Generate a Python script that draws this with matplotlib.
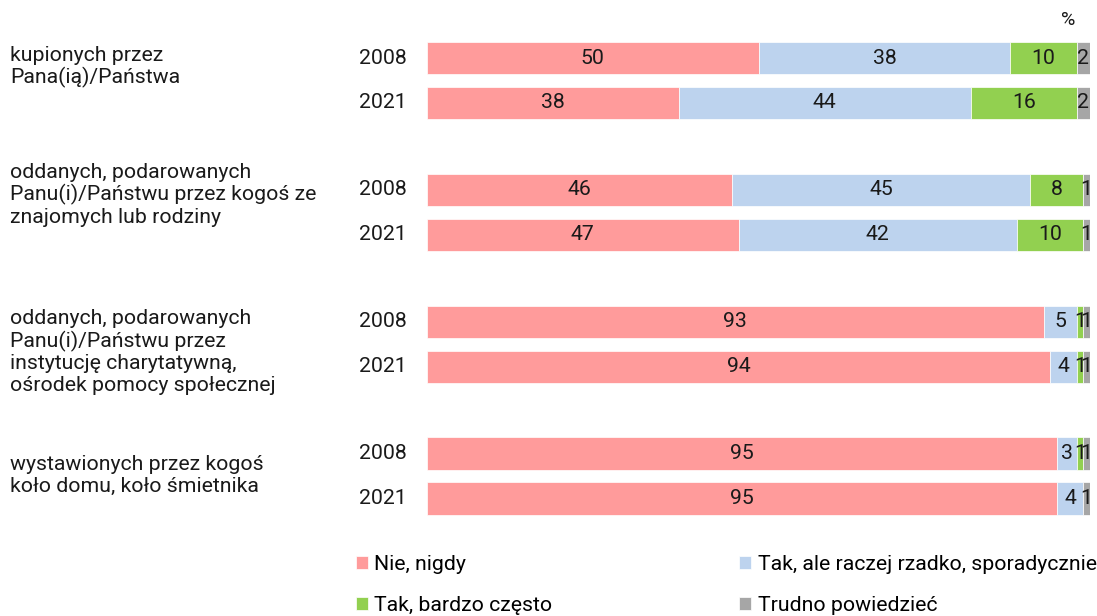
import matplotlib
matplotlib.use('Agg')
import matplotlib.pyplot as plt
import numpy as np

plt.rcParams['font.family'] = ['Roboto', 'DejaVu Sans']

categories = [
    'kupionych przez\nPana(ią)/Państwa',
    'oddanych, podarowanych\nPanu(i)/Państwu przez kogoś ze\nznajomych lub rodziny',
    'oddanych, podarowanych\nPanu(i)/Państwu przez\ninstytucję charytatywną,\nośrodek pomocy społecznej',
    'wystawionych przez kogoś\nkoło domu, koło śmietnika',
]
years = ['2008', '2021']
series = ['Nie, nigdy', 'Tak, ale raczej rzadko, sporadycznie',
          'Tak, bardzo często', 'Trudno powiedzieć']
colors = ['#FF9B9B', '#BDD3EE', '#92D050', '#A6A6A6']

# wiersze: kat1 2008, kat1 2021, kat2 2008, ...
nie_nigdy = [50, 38, 46, 47, 93, 94, 95, 95]
rzadko = [38, 44, 45, 42, 5, 4, 3, 4]
czesto = [10, 16, 8, 10, 1, 1, 1, 0]
trudno = [2, 2, 1, 1, 1, 1, 1, 1]
values = [nie_nigdy, rzadko, czesto, trudno]

FS = 15.3

group_gap = 2.93
ypos = []
for g in range(len(categories)):
    for j in range(len(years)):
        ypos.append(g * group_gap + j)
ypos = np.array(ypos)

fig = plt.figure(figsize=(10.97, 6.16), dpi=100)
ax = fig.add_axes([427 / 1097, 1 - 521.5 / 616, 663 / 1097, (521.5 - 35.5) / 616])

left = np.zeros(len(ypos))
handles = []
for vals, name, col in zip(values, series, colors):
    vals = np.array(vals, dtype=float)
    b = ax.barh(ypos, vals, left=left, height=0.72, color=col,
                edgecolor='white', linewidth=0.5, label=name)
    handles.append(b)
    for y, l, v in zip(ypos, left, vals):
        if v > 0:
            ax.text(l + v / 2, y, f'{int(v)}', ha='center', va='center',
                    fontsize=FS, color='#1a1a1a')
    left += vals

ax.set_xlim(0, 100)
ax.set_ylim(10.3, -0.5)
ax.axis('off')

# etykiety lat
for i, y in enumerate(ypos):
    ax.text(-3, y, years[i % 2], ha='right', va='center', fontsize=FS,
            color='#1a1a1a')

# etykiety kategorii
cat_y = [0.2, 3.04, 6.53, 9.27]
trans = matplotlib.transforms.blended_transform_factory(fig.transFigure, ax.transData)
for cy, txt in zip(cat_y, categories):
    ax.text(10 / 1097, cy, txt, transform=trans, ha='left', va='center',
            fontsize=FS, linespacing=1.17, color='#1a1a1a')

fig.text(1068 / 1097, 1 - 20 / 616, '%', ha='center', va='center',
         fontsize=14, color='#1a1a1a')

order = [handles[0], handles[2], handles[1], handles[3]]
fig.legend(order, [h.get_label() for h in order], ncol=2,
           loc='upper left', bbox_to_anchor=(356 / 1097, 1 - 555 / 616),
           frameon=False, fontsize=FS, handlelength=0.56, handleheight=0.56,
           handletextpad=0.3, columnspacing=8.8, labelspacing=1.05,
           borderaxespad=0, borderpad=0)

fig.savefig('out.png', dpi=100)
